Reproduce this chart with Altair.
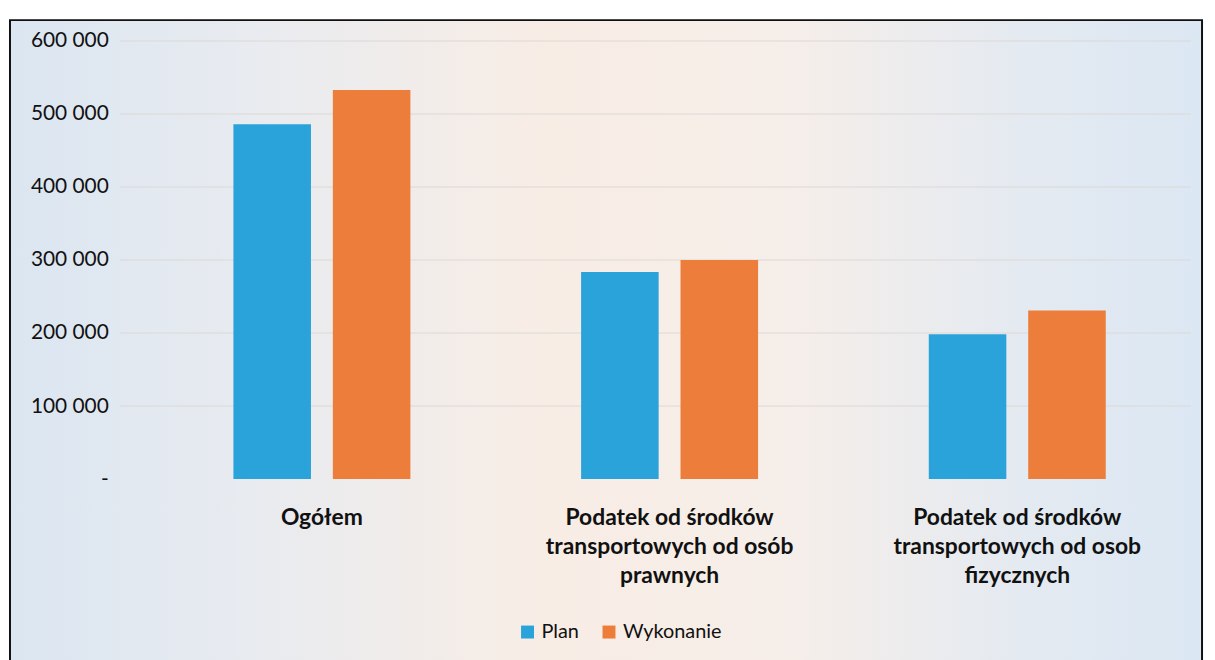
import altair as alt
import pandas as pd

categories = [
    "Ogółem",
    "Podatek od środków\ntransportowych od osób\nprawnych",
    "Podatek od środków\ntransportowych od osob\nfizycznych",
]
series = ["Plan", "Wykonanie"]
plan_values = [486000, 283500, 198500]
wykonanie_values = [533000, 300000, 231000]
y_ticks = [0, 100000, 200000, 300000, 400000, 500000, 600000]
colors = ["#2aa3db", "#ed7d3a"]

rows = []
for c, p, w in zip(categories, plan_values, wykonanie_values):
    rows.append({"kat": c, "seria": series[0], "val": p})
    rows.append({"kat": c, "seria": series[1], "val": w})
df = pd.DataFrame(rows)
grid_df = pd.DataFrame({"val": y_ticks[1:]})

W, H = 1050, 441
FONT = "Lato"

yscale = alt.Scale(domain=[0, 600000], nice=False)

bg = alt.Chart(pd.DataFrame({"d": [0]})).mark_rect(
    stroke="#111111",
    strokeWidth=2,
    fill=alt.Gradient(
        gradient="linear",
        x1=0, x2=1, y1=0, y2=0,
        stops=[
            alt.GradientStop(color="#dbe6f1", offset=0),
            alt.GradientStop(color="#e8ebf0", offset=0.2),
            alt.GradientStop(color="#f8ede5", offset=0.45),
            alt.GradientStop(color="#f6eee9", offset=0.65),
            alt.GradientStop(color="#e4eaf1", offset=0.85),
            alt.GradientStop(color="#dbe7f3", offset=1),
        ],
    ),
).encode(
    x=alt.value(-139), x2=alt.value(1061),
    y=alt.value(-21), y2=alt.value(660),
)

grid = alt.Chart(grid_df).mark_rule(color="#dcd9d6", strokeWidth=1).encode(
    y=alt.Y("val:Q", scale=yscale),
    x=alt.value(-28),
    x2=alt.value(W),
)

bars = alt.Chart(df).mark_bar().encode(
    x=alt.X(
        "kat:N",
        sort=categories,
        scale=alt.Scale(paddingInner=0.491, paddingOuter=0.2455),
        axis=alt.Axis(
            title=None,
            labelAngle=0,
            labelFont=FONT,
            labelFontSize=23,
            labelFontWeight="bold",
            labelColor="#111111",
            labelLineHeight=29,
            labelPadding=28,
            labelExpr="split(datum.label, '\\n')",
            ticks=False,
            domain=False,
            labelLimit=400,
            zindex=1,
        ),
    ),
    xOffset=alt.XOffset(
        "seria:N",
        sort=series,
        scale=alt.Scale(paddingInner=0.22, paddingOuter=0),
    ),
    y=alt.Y(
        "val:Q",
        scale=yscale,
        axis=alt.Axis(
            title=None,
            values=y_ticks,
            labelFont=FONT,
            labelFontSize=21,
            labelColor="#111111",
            labelPadding=40,
            labelExpr="datum.value == 0 ? '-\u00a0\u00a0\u00a0\u00a0\u00a0\u00a0\u00a0\u00a0' : replace(format(datum.value, ','), ',', ' ')",
            ticks=False,
            domain=False,
            grid=False,
            zindex=1,
        ),
    ),
    color=alt.Color(
        "seria:N",
        sort=series,
        scale=alt.Scale(domain=series, range=colors),
        legend=alt.Legend(
            title=None,
            orient="none",
            legendX=372,
            legendY=585,
            direction="horizontal",
            symbolType="square",
            symbolSize=170,
            symbolStrokeWidth=0,
            labelFont=FONT,
            labelFontSize=20,
            labelColor="#111111",
            columnPadding=20,
            labelOffset=4,
            zindex=1,
        ),
    ),
)

chart = alt.layer(bg, grid, bars).properties(
    width=W,
    height=H,
    autosize=alt.AutoSizeParams(type="none"),
    padding={"left": 141, "top": 31, "right": 16, "bottom": 190},
    background="white",
).configure_view(stroke=None)

chart.save("out.html", embed_options={"renderer": "svg", "actions": False})
